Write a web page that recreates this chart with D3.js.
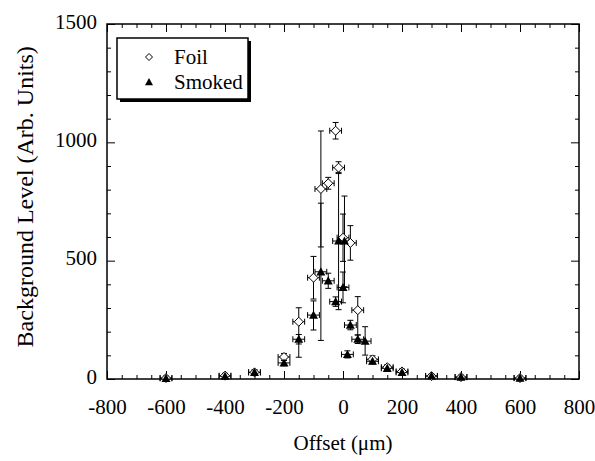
<!DOCTYPE html>
<html>
<head>
<meta charset="utf-8">
<script src="https://cdn.jsdelivr.net/npm/d3@7"></script>
<style>
  body { margin: 0; background: #fff; }
  svg text { font-family: "Liberation Serif", "Times New Roman", serif; fill: #000; }
  .axis path, .axis line { stroke: #000; }
  .axis text { font-size: 21px; }
</style>
</head>
<body>
<svg id="chart" width="595" height="461"></svg>
<script>
// Offsets in micrometres, levels in arbitrary units.
// lo/hi are the ends of each vertical error bar.
const foilOffsets = [-600, -400, -300, -200, -150, -100, -75, -50, -25, -15, 0, 25, 50, 100, 150, 200, 300, 400, 600];
const foilLevels  = [4, 14, 28, 93, 242, 428, 803, 827, 1049, 893, 597, 575, 291, 83, 50, 32, 12, 8, 4];
const foilLo      = [0, 4, 18, 78, 92, 338, 558, 802, 1014, 868, 497, 502, 186, 68, 40, 22, 4, 0, 0];
const foilHi      = [12, 24, 38, 108, 301, 518, 1048, 852, 1084, 918, 697, 648, 348, 98, 60, 42, 20, 16, 12];

const smokedOffsets = [-600, -400, -300, -200, -150, -100, -75, -50, -25, -15, 5, 0, 15, 25, 50, 75, 100, 150, 200, 300, 400, 600];
const smokedLevels  = [3, 12, 28, 68, 168, 270, 453, 415, 327, 583, 583, 387, 104, 228, 168, 160, 75, 45, 28, 13, 8, 4];
const smokedLo      = [0, 2, 18, 56, 148, 207, 163, 383, 307, 293, 390, 322, 89, 208, 150, 101, 63, 35, 20, 7, 2, 0];
const smokedHi      = [11, 22, 38, 80, 188, 330, 743, 447, 347, 873, 773, 452, 119, 248, 186, 221, 87, 55, 36, 19, 14, 10];

const offsetError = 20; // horizontal half-width, same for every point

const xMajorTicks = [-800, -600, -400, -200, 0, 200, 400, 600, 800];
const yMajorTicks = [0, 500, 1000, 1500];
const seriesNames = ['Foil', 'Smoked'];

const toRows = (xs, ys, lo, hi) => xs.map((x, i) => ({ x, y: ys[i], lo: lo[i], hi: hi[i] }));
const foil = toRows(foilOffsets, foilLevels, foilLo, foilHi);
const smoked = toRows(smokedOffsets, smokedLevels, smokedLo, smokedHi);

const margin = { left: 107, right: 16, top: 24, bottom: 82 };
const svg = d3.select('#chart');
const width = +svg.attr('width');
const height = +svg.attr('height');

const x = d3.scaleLinear().domain([-800, 800]).range([margin.left, width - margin.right]);
const y = d3.scaleLinear().domain([0, 1500]).range([height - margin.bottom, margin.top]);

const xMinor = d3.range(-800, 801, 50).filter(v => !xMajorTicks.includes(v));
const yMinor = d3.range(0, 1501, 100).filter(v => !yMajorTicks.includes(v));
const plainNumber = d => String(d);

// axes with inward ticks on all four sides
function addAxis(axis, transform, labelled) {
  const g = svg.append('g')
    .attr('class', 'axis')
    .attr('transform', transform)
    .call(axis)
  ;
  g.select('.domain').remove();
  if (!labelled)
    g.selectAll('text').remove();
  return g;
}

const bottomY = y(0);
const leftX = x(-800);

addAxis(d3.axisBottom(x).tickValues(xMajorTicks).tickSize(-8).tickPadding(20).tickFormat(plainNumber),
  `translate(0,${bottomY})`, true);
addAxis(d3.axisBottom(x).tickValues(xMinor).tickSize(-4), `translate(0,${bottomY})`, false);
addAxis(d3.axisTop(x).tickValues(xMajorTicks).tickSize(-8), `translate(0,${y(1500)})`, false);
addAxis(d3.axisTop(x).tickValues(xMinor).tickSize(-4), `translate(0,${y(1500)})`, false);

addAxis(d3.axisLeft(y).tickValues(yMajorTicks).tickSize(-8).tickPadding(10).tickFormat(plainNumber),
  `translate(${leftX},0)`, true)
  .selectAll('text')
  .attr('dy', '0.2em')
;
addAxis(d3.axisLeft(y).tickValues(yMinor).tickSize(-4), `translate(${leftX},0)`, false);
addAxis(d3.axisRight(y).tickValues(yMajorTicks).tickSize(-8), `translate(${x(800)},0)`, false);
addAxis(d3.axisRight(y).tickValues(yMinor).tickSize(-4), `translate(${x(800)},0)`, false);

svg.append('rect')
  .attr('x', x(-800))
  .attr('y', y(1500))
  .attr('width', x(800) - x(-800))
  .attr('height', y(0) - y(1500))
  .attr('fill', 'none')
  .attr('stroke', '#000')
  .attr('stroke-width', 1.5)
;

// error bars first, markers on top
const bars = svg.append('g').attr('class', 'error-bars');
function drawErrorBars(rows) {
  const g = bars.append('g');
  const bar = g.selectAll('g').data(rows).enter().append('g')
    .attr('stroke', '#000')
    .attr('stroke-width', 1)
  ;
  bar.append('line')
    .attr('x1', d => x(d.x)).attr('x2', d => x(d.x))
    .attr('y1', d => y(d.lo)).attr('y2', d => y(d.hi))
  ;
  bar.append('line')
    .attr('x1', d => x(d.x) - 3).attr('x2', d => x(d.x) + 3)
    .attr('y1', d => y(d.lo)).attr('y2', d => y(d.lo))
  ;
  bar.append('line')
    .attr('x1', d => x(d.x) - 3).attr('x2', d => x(d.x) + 3)
    .attr('y1', d => y(d.hi)).attr('y2', d => y(d.hi))
  ;
  bar.append('line')
    .attr('x1', d => x(d.x - offsetError)).attr('x2', d => x(d.x + offsetError))
    .attr('y1', d => y(d.y)).attr('y2', d => y(d.y))
  ;
  [-offsetError, offsetError].forEach(dx => {
    bar.append('line')
      .attr('x1', d => x(d.x + dx)).attr('x2', d => x(d.x + dx))
      .attr('y1', d => y(d.y) - 3).attr('y2', d => y(d.y) + 3)
    ;
  });
}
drawErrorBars(foil);
drawErrorBars(smoked);

const diamond = r => `M0,${-r}L${r},0L0,${r}L${-r},0Z`;
const triangle = r => `M0,${-r}L${r},${r * 0.8}L${-r},${r * 0.8}Z`;

svg.append('g').attr('class', 'foil')
  .selectAll('path').data(foil).enter().append('path')
  .attr('d', diamond(4.5))
  .attr('transform', d => `translate(${x(d.x)},${y(d.y)})`)
  .attr('fill', '#fff')
  .attr('stroke', '#000')
  .attr('stroke-width', 1)
;
svg.append('g').attr('class', 'smoked')
  .selectAll('path').data(smoked).enter().append('path')
  .attr('d', triangle(4.5))
  .attr('transform', d => `translate(${x(d.x)},${y(d.y)})`)
  .attr('fill', '#000')
;

// legend with drop shadow
const legend = svg.append('g').attr('class', 'legend');
legend.append('rect')
  .attr('x', 120).attr('y', 41).attr('width', 131).attr('height', 61)
  .attr('fill', '#000')
;
legend.append('rect')
  .attr('x', 117).attr('y', 38).attr('width', 131).attr('height', 61)
  .attr('fill', '#fff')
  .attr('stroke', '#000')
  .attr('stroke-width', 1.5)
;
const entry = legend.selectAll('g.entry').data(seriesNames).enter().append('g')
  .attr('class', 'entry')
  .attr('transform', (d, i) => `translate(149,${57 + i * 25})`)
;
entry.append('path')
  .attr('d', (d, i) => i === 0 ? diamond(3.5) : triangle(4))
  .attr('fill', (d, i) => i === 0 ? '#fff' : '#000')
  .attr('stroke', (d, i) => i === 0 ? '#000' : 'none')
;
entry.append('text')
  .attr('x', 25)
  .attr('dy', '0.35em')
  .style('font-size', '21px')
  .text(d => d)
;

svg.append('text')
  .attr('x', x(0))
  .attr('y', 450)
  .style('text-anchor', 'middle')
  .style('font-size', '21px')
  .text('Offset (μm)')
;
svg.append('text')
  .attr('transform', `translate(33,${y(770)}) rotate(-90)`)
  .style('text-anchor', 'middle')
  .style('font-size', '24px')
  .text('Background Level (Arb. Units)')
;
</script>
</body>
</html>
